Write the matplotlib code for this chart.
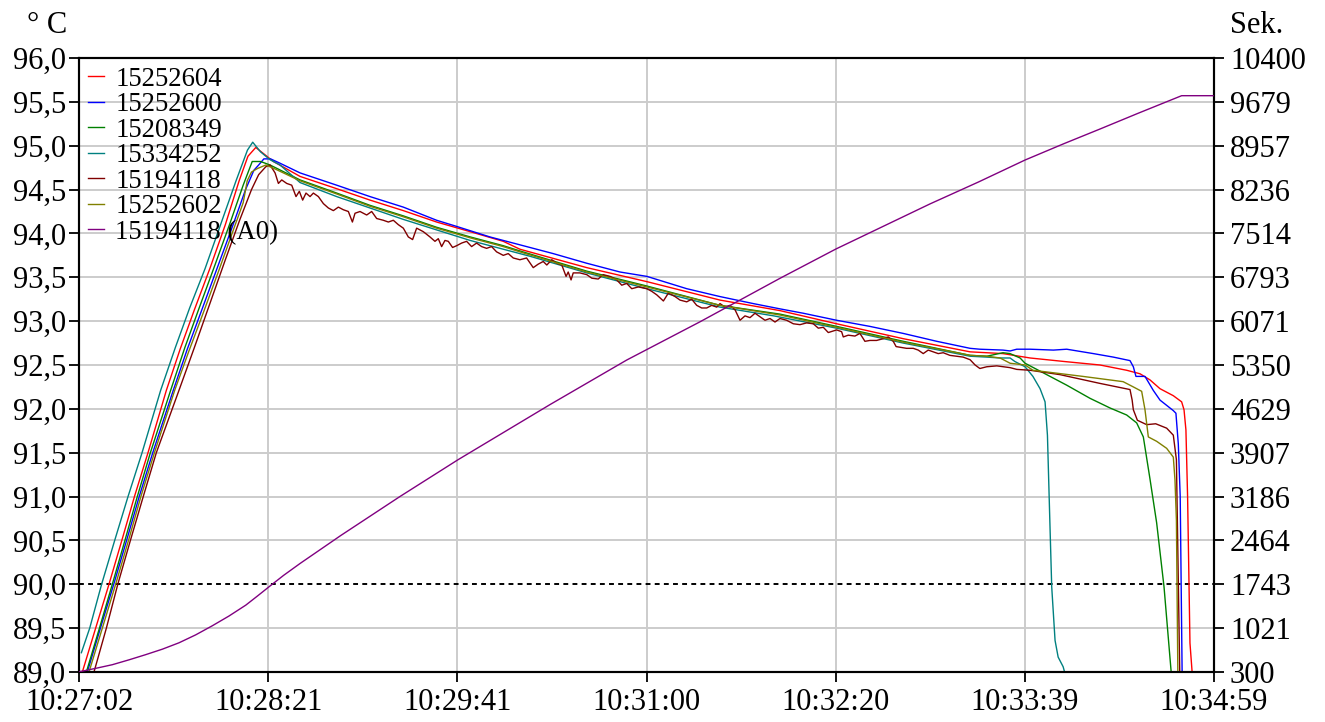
import numpy as np
import matplotlib
matplotlib.use("Agg")
import matplotlib.pyplot as plt

plt.rcParams['font.family'] = ['Liberation Serif', 'DejaVu Serif']

# ---------------- data (time in seconds after 10:27:02) ----------------
x_tick_pos = [0, 79.5, 159, 238.5, 318, 397.5, 477]
x_tick_labels = ["10:27:02", "10:28:21", "10:29:41", "10:31:00", "10:32:20", "10:33:39", "10:34:59"]
y_left_ticks = [89.0, 89.5, 90.0, 90.5, 91.0, 91.5, 92.0, 92.5, 93.0, 93.5, 94.0, 94.5, 95.0, 95.5, 96.0]
y_left_labels = ["89,0", "89,5", "90,0", "90,5", "91,0", "91,5", "92,0", "92,5", "93,0", "93,5",
                 "94,0", "94,5", "95,0", "95,5", "96,0"]
y_right_labels = ["300", "1021", "1743", "2464", "3186", "3907", "4629", "5350", "6071", "6793",
                  "7514", "8236", "8957", "9679", "10400"]

names = ["15252604", "15252600", "15208349", "15334252", "15194118", "15252602", "15194118 (A0)"]
colors = ["#ff0000", "#0000ff", "#008000", "#008080", "#800000", "#808000", "#800080"]

# 15252604 (red)
t_red = [0.5, 1.4, 7.0, 12.6, 18.0, 23.3, 29.0, 36.7, 42.5, 48.5, 55.0, 61.5, 67.3, 71.0, 74.3, 78.0, 81.7,
         92.9, 108.3, 122.3, 136.3, 150.3, 164.4, 178.3, 185.3, 213.4, 238.7, 269.4, 294.6, 318.4, 346.4,
         374.5, 388.3, 399.7, 414.0, 429.1, 440.3, 445.9, 450.1, 454.3, 459.9, 463.4, 464.4, 465.2, 465.9,
         466.9, 467.8, 468.5]
T_red = [88.92, 89.0, 89.5, 90.0, 90.5, 91.0, 91.5, 92.21, 92.68, 93.13, 93.6, 94.1, 94.6, 94.88, 94.98, 94.90, 94.82,
         94.65, 94.51, 94.38, 94.26, 94.13, 94.02, 93.91, 93.82, 93.61, 93.45, 93.24, 93.12, 92.97, 92.80,
         92.65, 92.63, 92.58, 92.54, 92.50, 92.44, 92.40, 92.33, 92.23, 92.15, 92.08, 91.99, 91.76, 91.0,
         89.33, 89.0, 88.8]

# 15252600 (blue)
t_blue = [0.5, 3.5, 9.0, 14.6, 20.0, 25.3, 31.0, 39.6, 45.5, 51.5, 58.0, 64.5, 70.0, 73.5, 75.5, 77.7, 80.5, 84.5,
          92.9, 108.3, 122.3, 136.3, 150.3, 158.7, 172.7, 185.3, 199.3, 213.4, 227.4, 238.7, 255.4, 269.4,
          283.4, 294.6, 304.4, 318.4, 332.4, 346.4, 360.5, 374.5, 378.6, 388.3, 391.3, 394.1, 399.7, 409.5,
          415.1, 426.3, 434.7, 441.7, 443.1, 444.2, 448.0, 451.5, 454.3, 459.9, 461.0, 462.0, 462.8, 463.6, 464.3]
T_blue = [88.75, 89.0, 89.5, 90.0, 90.5, 91.0, 91.5, 92.21, 92.68, 93.12, 93.6, 94.08, 94.5, 94.72, 94.78, 94.85, 94.85, 94.80,
          94.69, 94.55, 94.42, 94.30, 94.15, 94.08, 93.96, 93.87, 93.77, 93.66, 93.56, 93.51, 93.37, 93.28,
          93.20, 93.14, 93.09, 93.01, 92.94, 92.86, 92.77, 92.69, 92.68, 92.67, 92.66, 92.68, 92.68, 92.67,
          92.68, 92.63, 92.59, 92.55, 92.48, 92.37, 92.37, 92.21, 92.10, 91.98, 91.95, 91.6, 91.0, 89.0, 88.8]

# 15208349 (green)
t_green = [0.5, 3.1, 8.6, 14.0, 19.3, 24.5, 30.0, 38.5, 44.5, 50.5, 57.0, 63.5, 69.0, 72.8, 76.3, 80.3,
           92.9, 108.3, 122.3, 136.3, 150.3, 164.4, 178.3, 185.3, 213.4, 238.7, 269.4, 294.6, 318.4, 346.4,
           374.5, 381.5, 388.3, 391.3, 395.5, 397.6, 408.1, 415.1, 424.9, 433.3, 440.3, 444.5, 447.3, 450.1,
           452.9, 456.0, 459.0, 459.6]
T_green = [88.8, 89.0, 89.5, 90.0, 90.5, 91.0, 91.5, 92.21, 92.7, 93.15, 93.63, 94.12, 94.55, 94.82, 94.82, 94.78,
           94.61, 94.46, 94.32, 94.20, 94.07, 93.96, 93.86, 93.80, 93.57, 93.40, 93.18, 93.08, 92.94, 92.77,
           92.61, 92.60, 92.64, 92.63, 92.58, 92.52, 92.37, 92.27, 92.12, 92.01, 91.93, 91.84, 91.68, 91.2,
           90.7, 89.97, 89.0, 88.9]

# 15334252 (teal)
t_teal = [1.0, 4.5, 9.5, 15.0, 20.6, 26.5, 34.3, 40.5, 46.5, 53.0, 59.5, 66.0, 70.8, 73.0, 76.3, 80.3, 84.5,
          92.9, 108.3, 122.3, 136.3, 150.3, 164.4, 178.3, 189.5, 213.4, 238.7, 269.4, 292.0, 318.4, 346.4,
          374.5, 381.5, 387.1, 391.3, 393.3, 397.6, 400.9, 403.9, 406.0, 407.0, 408.0, 408.8, 410.2, 411.5,
          413.6, 414.4, 415.0]
T_teal = [89.22, 89.5, 90.0, 90.5, 91.0, 91.5, 92.21, 92.7, 93.15, 93.6, 94.1, 94.6, 94.95, 95.04, 94.93, 94.84, 94.78,
          94.58, 94.42, 94.29, 94.16, 94.04, 93.92, 93.82, 93.74, 93.55, 93.37, 93.16, 93.06, 92.92, 92.75,
          92.60, 92.59, 92.58, 92.58, 92.54, 92.48, 92.37, 92.23, 92.08, 91.7, 90.73, 89.97, 89.36, 89.17,
          89.06, 88.98, 88.9]

# 15194118 (brown)
t_brown = [0.5, 6.3, 11.5, 16.3, 21.6, 27.0, 32.5, 42.0, 48.5, 55.0, 61.5, 67.5, 72.5, 75.5, 78.5,
           80.3, 82.4, 83.8, 85.2, 87.3, 89.4, 91.2, 92.6, 94.0, 95.4, 97.1, 98.5, 100.6, 102.7, 104.8, 106.9,
           109.0, 111.1, 113.2, 114.9, 116.0, 118.1, 120.9, 123.0, 125.1, 127.9, 130.0, 132.1, 134.2, 136.3,
           138.4, 140.2, 141.9, 144.7, 147.5, 149.6, 151.0, 152.4, 153.8, 155.2, 157.0, 158.7, 160.8, 162.9,
           165.0, 167.1, 169.2, 171.3, 173.4, 175.5, 178.3, 180.4, 182.5, 185.3, 188.1, 190.9, 193.0, 195.1,
           196.6, 198.7, 200.8, 202.9, 204.7, 205.6, 206.8, 207.7, 210.5, 213.4, 215.5, 218.2, 220.3, 223.2,
           226.0, 228.1, 230.2, 232.3, 235.1, 238.6, 240.7, 242.8, 245.6, 247.7, 250.5, 252.6, 255.4, 257.5,
           259.6, 261.7, 263.8, 265.9, 268.0, 269.4, 271.5, 273.6, 275.7, 277.8, 279.9, 282.0, 284.1, 286.2,
           288.3, 290.4, 292.5, 294.6, 297.4, 300.2, 303.0, 305.8, 308.6, 310.7, 312.8, 314.9, 318.4, 320.5,
           321.2, 323.3, 326.1, 328.2, 330.3, 332.4, 335.2, 338.0, 340.1, 342.2, 343.4, 347.8, 350.6, 352.7,
           354.8, 356.9, 359.0, 361.1, 363.2, 366.0, 368.8, 371.6, 374.5, 376.6, 378.6, 381.5, 385.7, 391.3,
           394.1, 399.7, 412.3, 429.1, 441.7, 442.6, 443.1, 444.8, 448.7, 452.5, 457.1, 459.9, 461.2, 461.9,
           462.6, 463.2]
T_brown = [88.5, 89.0, 89.5, 90.0, 90.5, 91.0, 91.5, 92.21, 92.7, 93.2, 93.7, 94.15, 94.5, 94.67, 94.76,
           94.78, 94.69, 94.57, 94.61, 94.57, 94.55, 94.42, 94.48, 94.38, 94.46, 94.42, 94.46, 94.42, 94.34, 94.29, 94.26,
           94.30, 94.27, 94.25, 94.13, 94.23, 94.25, 94.21, 94.25, 94.17, 94.15, 94.13, 94.15, 94.10, 94.06,
           93.96, 93.93, 94.06, 94.02, 93.96, 93.91, 93.94, 93.85, 93.92, 93.91, 93.84, 93.86, 93.89, 93.91,
           93.85, 93.89, 93.85, 93.83, 93.85, 93.79, 93.75, 93.77, 93.72, 93.70, 93.72, 93.61, 93.65, 93.68,
           93.64, 93.70, 93.66, 93.64, 93.51, 93.56, 93.47, 93.55, 93.55, 93.53, 93.49, 93.48, 93.53, 93.51,
           93.47, 93.41, 93.43, 93.37, 93.39, 93.37, 93.34, 93.30, 93.23, 93.32, 93.28, 93.24, 93.22, 93.25,
           93.18, 93.15, 93.15, 93.18, 93.16, 93.20, 93.16, 93.18, 93.13, 93.01, 93.06, 93.04, 93.09, 93.05,
           93.01, 93.03, 92.99, 93.03, 93.01, 92.97, 92.96, 92.98, 92.97, 92.92, 92.93, 92.87, 92.90, 92.88,
           92.82, 92.84, 92.83, 92.86, 92.77, 92.78, 92.78, 92.80, 92.82, 92.77, 92.71, 92.69, 92.69, 92.67,
           92.63, 92.67, 92.65, 92.63, 92.64, 92.61, 92.60, 92.59, 92.56, 92.50, 92.46, 92.48, 92.49, 92.47,
           92.45, 92.44, 92.39, 92.29, 92.22, 92.10, 91.99, 91.87, 91.82, 91.83, 91.78, 91.70, 91.42, 90.2,
           89.0, 88.8]

# 15252602 (olive)
t_olive = [0.5, 4.2, 9.8, 15.4, 20.8, 26.0, 31.7, 40.2, 46.2, 52.3, 58.8, 65.0, 69.0, 70.7, 72.5, 75.0, 78.5, 82.0,
           92.9, 108.3, 122.3, 136.3, 150.3, 164.4, 178.3, 185.3, 213.4, 238.7, 269.4, 294.6, 318.4, 346.4,
           374.5, 381.5, 387.1, 391.3, 397.6, 400.9, 421.9, 438.8, 443.1, 446.6, 448.0, 449.4, 452.9, 457.1,
           459.9, 460.6, 461.2, 461.8, 462.3]
T_olive = [88.7, 89.0, 89.5, 90.0, 90.5, 91.0, 91.5, 92.21, 92.66, 93.1, 93.58, 94.05, 94.35, 94.6, 94.7, 94.74, 94.78, 94.74,
           94.60, 94.45, 94.31, 94.19, 94.06, 93.95, 93.85, 93.79, 93.56, 93.39, 93.18, 93.07, 92.93, 92.76,
           92.61, 92.60, 92.58, 92.52, 92.50, 92.44, 92.37, 92.31, 92.25, 92.20, 91.99, 91.68, 91.63, 91.55,
           91.45, 91.19, 90.73, 89.0, 88.8]

# 15194118 (A0), right axis, seconds
t_a0 = [0.2, 7.0, 14.0, 21.0, 28.0, 35.0, 42.0, 49.0, 56.0, 63.0, 70.1, 75.0, 79.9, 86.0, 92.9, 110.0,
        134.9, 159.3, 198.0, 230.2, 261.0, 294.6, 318.1, 357.6, 378.0, 397.6, 414.0, 429.1, 445.0, 463.4, 476.6]
v_a0 = [305, 360, 420, 500, 585, 675, 780, 910, 1060, 1220, 1400, 1550, 1703, 1890, 2085, 2545,
        3187, 3792, 4700, 5432, 6061, 6776, 7258, 7999, 8360, 8722, 8992, 9232, 9489, 9780, 9780]

series_T = [(t_red, T_red), (t_blue, T_blue), (t_green, T_green), (t_teal, T_teal),
            (t_brown, T_brown), (t_olive, T_olive)]

# ---------------- figure ----------------
W, H = 1325, 722
fig = plt.figure(figsize=(W / 100, H / 100), dpi=100)
L, R, B, Tp = 79, 1214, 672, 58
ax = fig.add_axes([L / W, (H - B) / H, (R - L) / W, (B - Tp) / H])
ax2 = ax.twinx()

handles = []
for (tt, TT), c, n in zip(series_T, colors[:6], names[:6]):
    h, = ax.plot(tt, TT, color=c, lw=1.0, label=n, zorder=3)
    handles.append(h)
h, = ax2.plot(t_a0, v_a0, color=colors[6], lw=1.0, label=names[6], zorder=3)
handles.append(h)

ax.axhline(90.0, color='black', lw=1.4, ls=(0, (2.5, 2.2)), zorder=2)

ax.set_xlim(0, 477)
ax.set_ylim(89, 96)
ax2.set_ylim(300, 10400)

ax.set_xticks(x_tick_pos)
ax.set_xticklabels(x_tick_labels)
ax.set_yticks(y_left_ticks)
ax.set_yticklabels(y_left_labels)
ax2.set_yticks(np.linspace(300, 10400, len(y_right_labels)))
ax2.set_yticklabels(y_right_labels)

ax.grid(True, color='#cccccc', lw=1.4, zorder=0)
ax.set_axisbelow(True)
for i, v in enumerate(y_left_ticks):
    if abs(v - 90.0) < 1e-9:
        ax.yaxis.get_gridlines()[i].set_visible(False)

for a in (ax, ax2):
    for s in a.spines.values():
        s.set_linewidth(1.5)
        s.set_color('black')
    a.tick_params(direction='out', length=7.5, width=1.3, labelsize=22, colors='black')
ax.tick_params(axis='y', pad=2)
ax.tick_params(axis='x', pad=4)
ax2.tick_params(axis='y', pad=4)

fig.text(27 / W, 1 - 33 / H, "° C", fontsize=22, va='baseline', ha='left')
fig.text(1230 / W, 1 - 33 / H, "Sek.", fontsize=22, va='baseline', ha='left')

leg = ax2.legend(handles, names, loc='upper left', bbox_to_anchor=(0.0079, 0.986),
                 frameon=False, fontsize=19.3, handlelength=0.6, handletextpad=0.42,
                 labelspacing=0.02, borderpad=0, borderaxespad=0)

fig.savefig("out.png", dpi=100)
